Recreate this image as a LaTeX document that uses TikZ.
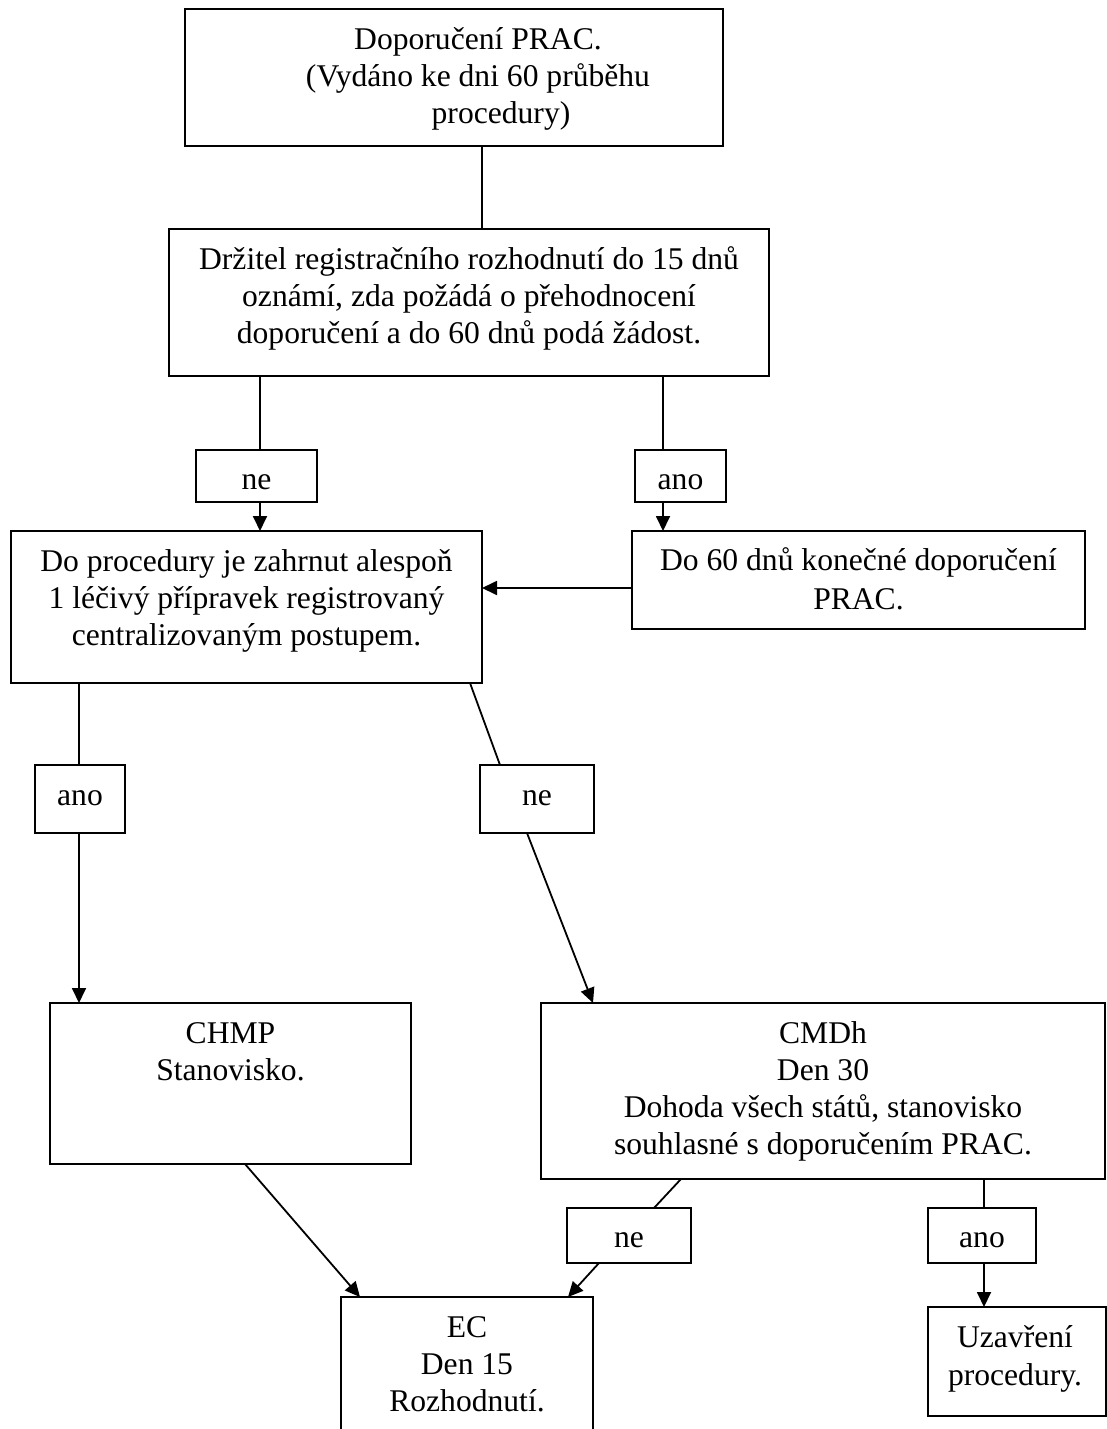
\documentclass[tikz,border=0pt]{standalone}
\usepackage{fontspec}
\setmainfont{Liberation Serif}
\usetikzlibrary{arrows.meta}
\newcommand\mlines[1]{\begin{tabular}[t]{@{}c@{}}#1\end{tabular}}
\begin{document}
\begin{tikzpicture}[x=1pt,y=-1pt,
  box/.style={draw, line width=1.8pt, inner sep=0pt, outer sep=0pt},
  txt/.style={anchor=base, inner sep=0pt, outer sep=0pt, font=\fontsize{31.6}{37}\selectfont},
  conn/.style={line width=1.8pt},
  arr/.style={line width=1.8pt, -{Triangle[length=15pt,width=14pt]}},
]
\useasboundingbox (0,0) rectangle (1107,1429);
\fill[white] (0,0) rectangle (1107,1429);
\clip (0,0) rectangle (1107,1429);

% boxes
\node[box, minimum width=538, minimum height=137] (n1) at (454,77.5) {};
\node[txt] (t1) at (478,49) {\mlines{Doporučení PRAC.\\(Vydáno ke dni 60 průběhu\\\hspace*{46pt}procedury)}};

\node[box, minimum width=600, minimum height=147] (n2) at (469,302.5) {};
\node[txt] (t2) at (469,269) {\mlines{Držitel registračního rozhodnutí do 15 dnů\\oznámí, zda požádá o přehodnocení\\doporučení a do 60 dnů podá žádost.}};

\node[box, minimum width=121, minimum height=52] (ne1) at (256.5,476) {};
\node[txt] (tne1) at (256.5,489) {ne};
\node[box, minimum width=91, minimum height=52] (ano1) at (680.5,476) {};
\node[txt] (tano1) at (680.5,489) {ano};

\node[box, minimum width=471, minimum height=152] (n3) at (246.5,607) {};
\node[txt] (t3) at (246.5,571) {\mlines{Do procedury je zahrnut alespoň\\1 léčivý přípravek registrovaný\\centralizovaným postupem.}};

\node[box, minimum width=453, minimum height=98] (n4) at (858.5,580) {};
\node[txt, font=\fontsize{31.6}{39}\selectfont] (t4) at (858.5,570.5) {\mlines{Do 60 dnů konečné doporučení\\PRAC.}};

\node[box, minimum width=90, minimum height=68] (ano2) at (80,799) {};
\node[txt] (tano2) at (80,805) {ano};
\node[box, minimum width=114, minimum height=68] (ne2) at (537,799) {};
\node[txt] (tne2) at (537,805) {ne};

\node[box, minimum width=361, minimum height=161] (n5) at (230.5,1083.5) {};
\node[txt] (t5) at (230.5,1043) {\mlines{CHMP\\Stanovisko.}};

\node[box, minimum width=564, minimum height=176] (n6) at (823,1091) {};
\node[txt] (t6) at (823,1043) {\mlines{CMDh\\Den 30\\Dohoda všech států, stanovisko\\souhlasné s doporučením PRAC.}};

\node[box, minimum width=124, minimum height=55] (ne3) at (629,1235.5) {};
\node[txt] (tne3) at (629,1247) {ne};
\node[box, minimum width=108, minimum height=55] (ano3) at (982,1235.5) {};
\node[txt] (tano3) at (982,1247) {ano};

\node[box, minimum width=252, minimum height=163] (n7) at (467,1378.5) {};
\node[txt] (t7) at (467,1337) {\mlines{EC\\Den 15\\Rozhodnutí.}};

\node[box, minimum width=178, minimum height=109] (n8) at (1017,1361.5) {};
\node[txt, font=\fontsize{31.6}{38}\selectfont] (t8) at (1015,1347) {\mlines{Uzavření\\procedury.}};

% connectors
\draw[conn] (482,0 |- n1.south) -- (482,0 |- n2.north);
\draw[conn] (260,0 |- n2.south) -- (260,0 |- ne1.north);
\draw[arr] (260,0 |- ne1.south) -- (260,0 |- n3.north);
\draw[conn] (663,0 |- n2.south) -- (663,0 |- ano1.north);
\draw[arr] (663,0 |- ano1.south) -- (663,0 |- n4.north);
\draw[arr] (n4.west |- 0,588) -- (n3.east |- 0,588);
\draw[conn] (79,0 |- n3.south) -- (79,0 |- ano2.north);
\draw[arr] (79,0 |- ano2.south) -- (79,0 |- n5.north);
\draw[conn] (470,0 |- n3.south) -- (500,0 |- ne2.north);
\draw[arr] (527,0 |- ne2.south) -- (593,0 |- n6.north);
\draw[arr] (245,0 |- n5.south) -- (360,0 |- n7.north);
\draw[conn] (681,0 |- n6.south) -- (654,0 |- ne3.north);
\draw[arr] (599,0 |- ne3.south) -- (568,0 |- n7.north);
\draw[conn] (984,0 |- n6.south) -- (984,0 |- ano3.north);
\draw[arr] (984,0 |- ano3.south) -- (984,0 |- n8.north);
\end{tikzpicture}
\end{document}
